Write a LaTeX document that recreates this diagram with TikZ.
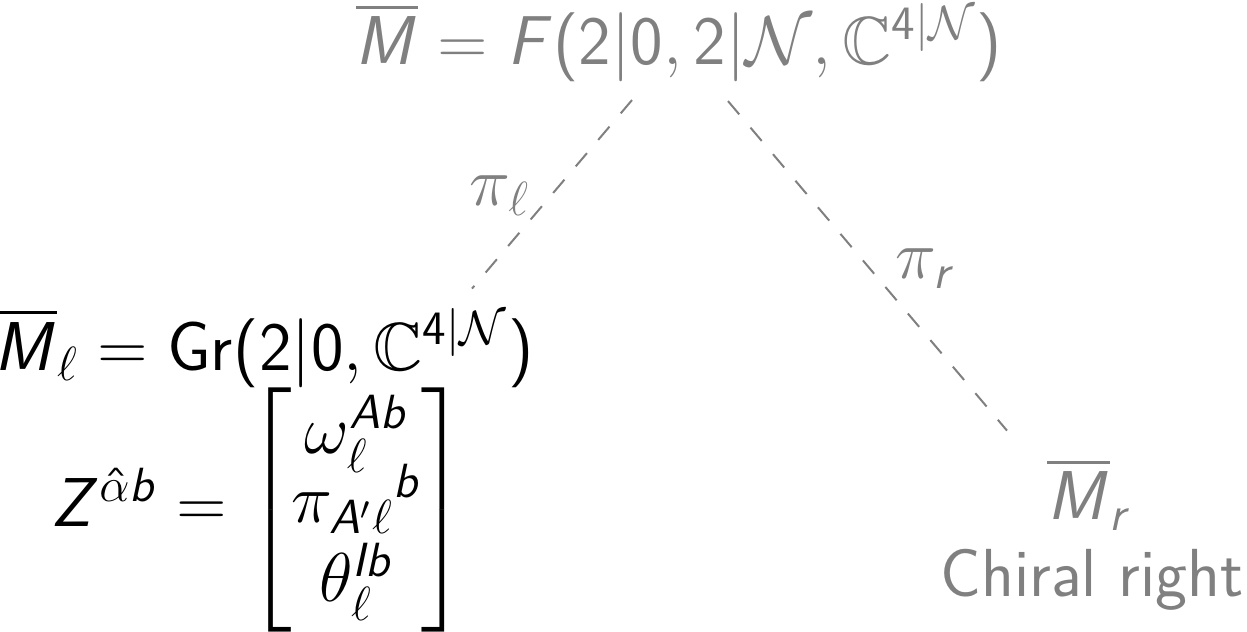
\documentclass[tikz,border=0pt]{standalone}
\usepackage{amsmath,amssymb}
\DeclareSymbolFont{sfit}{OT1}{cmss}{m}{sl}
\SetSymbolFont{operators}{normal}{OT1}{cmss}{m}{n}
\DeclareMathSymbol{M}{\mathalpha}{sfit}{`M}
\DeclareMathSymbol{F}{\mathalpha}{sfit}{`F}
\DeclareMathSymbol{Z}{\mathalpha}{sfit}{`Z}
\DeclareMathSymbol{A}{\mathalpha}{sfit}{`A}
\DeclareMathSymbol{I}{\mathalpha}{sfit}{`I}
\DeclareMathSymbol{b}{\mathalpha}{sfit}{`b}
\DeclareMathSymbol{r}{\mathalpha}{sfit}{`r}
\definecolor{gr}{gray}{0.5}
\newcommand{\diagfs}{\fontsize{17}{18.75}\selectfont}
\tikzset{
  lbl/.style={inner sep=0pt, font=\diagfs},
  faded/.style={lbl, text=gr},
  conn/.style={draw=gr, line width=0.5pt, dash pattern=on 4.35pt off 4.35pt},
}
\begin{document}
\begin{tikzpicture}[x=0.25pt,y=-0.25pt]
\useasboundingbox (0,0) rectangle (1247,632);
\node[faded, anchor=base] (top) at (679,65)
  {$\overline{M} = F(2|0, 2|\mathcal{N}, \mathbb{C}^{4|\mathcal{N}})$};
\node[lbl, anchor=base] (lt) at (264,370)
  {$\overline{M}_\ell = \mathrm{Gr}(2|0, \mathbb{C}^{4|\mathcal{N}})$};
\node[lbl, anchor=base] (lm) at (259,527)
  {$Z^{\hat\alpha b} = \begin{bmatrix} \omega_\ell^{Ab}\\[-3pt] \pi_{A'\ell}{}^{b}\\[-0.5pt] \theta_\ell^{Ib}\end{bmatrix}$};
\node[faded, anchor=base] (rm) at (1090,520) {$\overline{M}_r$};
\node[faded, anchor=base] (rt) at (1092,597) {\sffamily Chiral right};
\draw[conn] ([shift={(-47,17)}]top.south) --
  node[faded, anchor=east, shift={(-21,1.5)}] (pl) {$\pi_\ell$}
  ([shift={(208,-19)}]lt.north);
\draw[conn] ([shift={(49,18)}]top.south) --
  node[faded, anchor=west, shift={(27,3)}] (pr) {$\pi_r$}
  ([shift={(-83,-27)}]rm.north);
\end{tikzpicture}
\end{document}
